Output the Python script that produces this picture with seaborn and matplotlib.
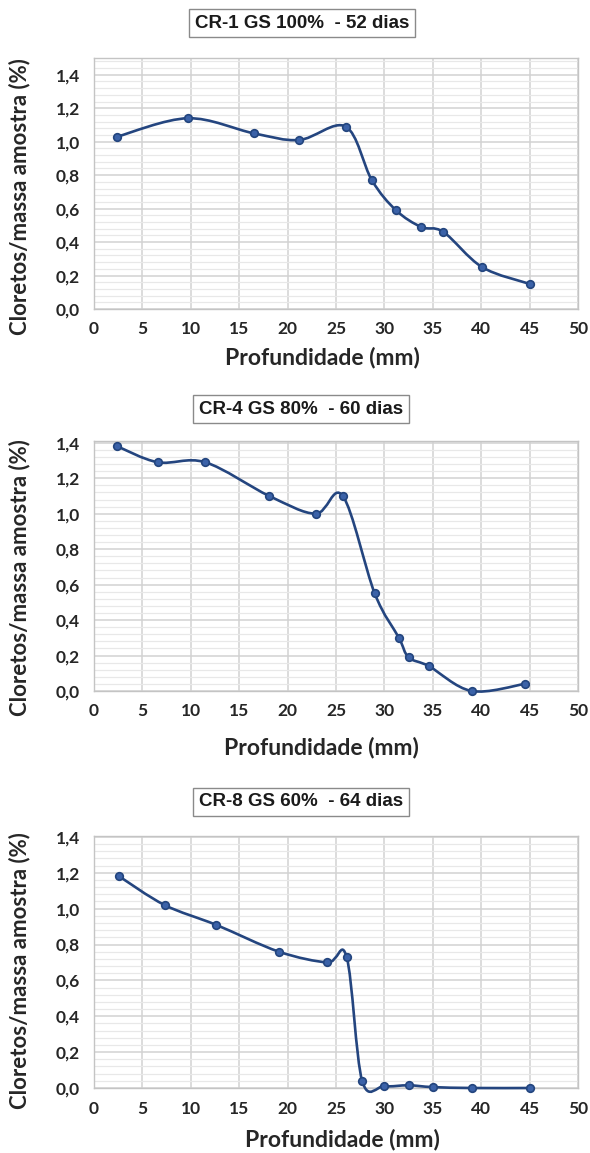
import numpy as np
import pandas as pd
import matplotlib
matplotlib.use("Agg")
import matplotlib.pyplot as plt
import seaborn as sns
from matplotlib.path import Path
from matplotlib.patches import PathPatch
from matplotlib.ticker import MultipleLocator, FuncFormatter

# ---------------- data ----------------
titles = ["CR-1 GS 100%  - 52 dias", "CR-4 GS 80%  - 60 dias", "CR-8 GS 60%  - 64 dias"]

depth_cr1 = [2.4, 9.7, 16.5, 21.2, 26.0, 28.7, 31.2, 33.8, 36.1, 40.1, 45.0]
chl_cr1 = [1.03, 1.14, 1.05, 1.01, 1.09, 0.77, 0.59, 0.49, 0.46, 0.25, 0.15]

depth_cr4 = [2.4, 6.6, 11.5, 18.1, 22.9, 25.7, 29.0, 31.5, 32.5, 34.6, 39.0, 44.5]
chl_cr4 = [1.38, 1.29, 1.29, 1.10, 1.00, 1.10, 0.55, 0.30, 0.19, 0.14, 0.00, 0.04]

depth_cr8 = [2.6, 7.3, 12.6, 19.1, 24.1, 26.1, 27.7, 30.0, 32.5, 35.0, 39.1, 45.0]
chl_cr8 = [1.18, 1.02, 0.91, 0.76, 0.70, 0.73, 0.04, 0.01, 0.015, 0.005, 0.0, 0.0]

x_ticks = [0, 5, 10, 15, 20, 25, 30, 35, 40, 45, 50]
y_ticks = [0.0, 0.2, 0.4, 0.6, 0.8, 1.0, 1.2, 1.4]
x_label = "Profundidade (mm)"
y_label = "Cloretos/massa amostra (%)"

# ---------------- style ----------------
sns.set_theme(style="white")
plt.rcParams["font.family"] = ["Lato", "DejaVu Sans"]

LINE_C = "#24457f"
MARK_FC = "#3b62a8"
MARK_EC = "#23457e"

W, H = 590, 1153
fig = plt.figure(figsize=(W / 100, H / 100), dpi=100)
fig.patch.set_facecolor("white")


def smooth_path(x, y):
    """Excel-like smoothed line as cubic Bezier path through the data points."""
    P = np.column_stack([x, y]).astype(float)
    n = len(P)
    verts = [P[0]]
    codes = [Path.MOVETO]
    for i in range(n - 1):
        p0 = P[i - 1] if i > 0 else P[i]
        p3 = P[i + 2] if i + 2 < n else P[i + 1]
        c1 = P[i] + (P[i + 1] - p0) / 6.0
        c2 = P[i + 1] - (p3 - P[i]) / 6.0
        verts += [c1, c2, P[i + 1]]
        codes += [Path.CURVE4] * 3
    return Path(verts, codes)


panels = [
    dict(x=depth_cr1, y=chl_cr1, title=titles[0], rect=(94, 309, 251), ymax=1.5,
         title_xy=(302, 23), xl_xy=(322, 357), yl_y=197),
    dict(x=depth_cr4, y=chl_cr4, title=titles[1], rect=(94, 691, 250), ymax=1.41,
         title_xy=(301, 409), xl_xy=(321, 748), yl_y=578),
    dict(x=depth_cr8, y=chl_cr8, title=titles[2], rect=(94, 1088, 252), ymax=1.405,
         title_xy=(301, 802), xl_xy=(342, 1140), yl_y=971),
]

for p in panels:
    left, bottom_px, h_px = p["rect"]
    ax = fig.add_axes([left / W, 1 - bottom_px / H, (578 - left) / W, h_px / H])
    df = pd.DataFrame({"Profundidade": p["x"], "Cloretos": p["y"]})

    ax.set_xlim(0, 50)
    ax.set_ylim(0, p["ymax"])

    # grid
    ax.yaxis.set_minor_locator(MultipleLocator(0.04))
    ax.set_xticks(x_ticks)
    ax.set_yticks(y_ticks)
    ax.grid(which="minor", axis="y", color="#e8e8e8", lw=0.9, zorder=0)
    ax.grid(which="major", axis="both", color="#d2d2d2", lw=1.1, zorder=0)
    ax.set_axisbelow(True)

    # smoothed line
    patch = PathPatch(smooth_path(df["Profundidade"], df["Cloretos"]), fc="none",
                      ec=LINE_C, lw=1.9, zorder=3, transform=ax.transData)
    patch.set_clip_on(False)
    ax.add_patch(patch)

    sns.scatterplot(data=df, x="Profundidade", y="Cloretos", ax=ax, s=30,
                    color=MARK_FC, edgecolor=MARK_EC, linewidth=1.2, zorder=4,
                    clip_on=False, legend=False)

    for s in ax.spines.values():
        s.set_color("#c4c4c4")
        s.set_linewidth(1.0)

    ax.yaxis.set_major_formatter(FuncFormatter(lambda v, _: f"{v:.1f}".replace(".", ",")))
    ax.tick_params(axis="both", which="both", length=0)
    ax.tick_params(axis="x", pad=9, labelsize=12.5, labelcolor="#262626")
    ax.tick_params(axis="y", pad=10, labelsize=12.5, labelcolor="#262626")
    for lab in ax.get_xticklabels() + ax.get_yticklabels():
        lab.set_fontweight("bold")
    ax.set_xlabel("")
    ax.set_ylabel("")

    # title in a box
    tx, ty = p["title_xy"]
    fig.text(tx / W, 1 - ty / H, p["title"], ha="center", va="center",
             fontsize=13.5, fontweight="bold", color="#1a1a1a",
             family=["Liberation Sans", "DejaVu Sans"],
             bbox=dict(boxstyle="square,pad=0.3", fc="white", ec="#8a8a8a", lw=1.0))

    xx, xy = p["xl_xy"]
    fig.text(xx / W, 1 - xy / H, x_label, ha="center", va="center",
             fontsize=16.5, fontweight="bold", color="#262626")
    fig.text(20 / W, 1 - p["yl_y"] / H, y_label, ha="center", va="center",
             rotation=90, fontsize=16, fontweight="bold", color="#262626")

fig.savefig("out.png", dpi=100, facecolor="white")
